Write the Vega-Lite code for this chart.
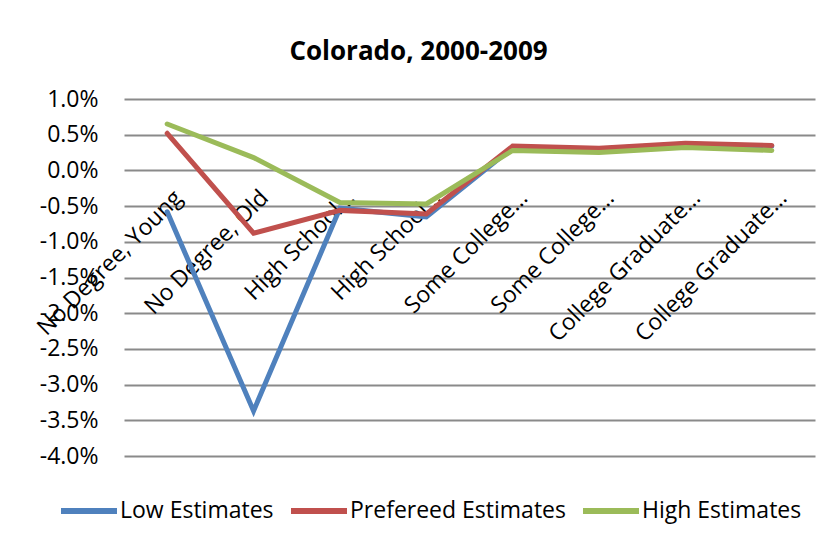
{
  "$schema": "https://vega.github.io/schema/vega-lite/v6.json",
  "width": 691,
  "height": 357,
  "autosize": {"type": "none"},
  "padding": {"left": 124, "top": 99, "right": 24, "bottom": 90},
  "background": "white",
  "title": {"text": "Colorado, 2000-2009", "font": "Open Sans", "fontSize": 26, "fontWeight": "bold", "color": "#000000", "offset": 23, "anchor": "middle", "frame": "group", "dx": -51},
  "config": {"view": {"stroke": null}, "font": "Open Sans", "axisY": {"labelOverlap": false}},
  "datasets": {
    "series": [
      {"cat": "No Degree, Young", "series": "Low Estimates", "value": -0.0058},
      {"cat": "No Degree, Old", "series": "Low Estimates", "value": -0.0337},
      {"cat": "High School…", "series": "Low Estimates", "value": -0.0053},
      {"cat": "High School… ", "series": "Low Estimates", "value": -0.0065},
      {"cat": "Some College…", "series": "Low Estimates", "value": 0.0032},
      {"cat": "Some College… ", "series": "Low Estimates", "value": 0.0030},
      {"cat": "College Graduate…", "series": "Low Estimates", "value": 0.0037},
      {"cat": "College Graduate… ", "series": "Low Estimates", "value": 0.0034},
      {"cat": "No Degree, Young", "series": "Prefereed Estimates", "value": 0.0052},
      {"cat": "No Degree, Old", "series": "Prefereed Estimates", "value": -0.0088},
      {"cat": "High School…", "series": "Prefereed Estimates", "value": -0.0056},
      {"cat": "High School… ", "series": "Prefereed Estimates", "value": -0.0061},
      {"cat": "Some College…", "series": "Prefereed Estimates", "value": 0.0034},
      {"cat": "Some College… ", "series": "Prefereed Estimates", "value": 0.0031},
      {"cat": "College Graduate…", "series": "Prefereed Estimates", "value": 0.0038},
      {"cat": "College Graduate… ", "series": "Prefereed Estimates", "value": 0.0035},
      {"cat": "No Degree, Young", "series": "High Estimates", "value": 0.0065},
      {"cat": "No Degree, Old", "series": "High Estimates", "value": 0.0018},
      {"cat": "High School…", "series": "High Estimates", "value": -0.0045},
      {"cat": "High School… ", "series": "High Estimates", "value": -0.0047},
      {"cat": "Some College…", "series": "High Estimates", "value": 0.0028},
      {"cat": "Some College… ", "series": "High Estimates", "value": 0.0025},
      {"cat": "College Graduate…", "series": "High Estimates", "value": 0.0032},
      {"cat": "College Graduate… ", "series": "High Estimates", "value": 0.0028}
    ],
    "cats": [
      {"cat": "No Degree, Young", "value": 0},
      {"cat": "No Degree, Old", "value": 0},
      {"cat": "High School…", "value": 0},
      {"cat": "High School… ", "value": 0},
      {"cat": "Some College…", "value": 0},
      {"cat": "Some College… ", "value": 0},
      {"cat": "College Graduate…", "value": 0},
      {"cat": "College Graduate… ", "value": 0}
    ]
  },
  "encoding": {
    "x": {"field": "cat", "type": "nominal", "sort": null, "axis": null, "scale": {"paddingInner": 0, "paddingOuter": 0}},
    "y": {
      "field": "value", "type": "quantitative",
      "scale": {"domain": [-0.04, 0.01], "nice": false, "zero": false},
      "axis": {"values": [-0.04, -0.035, -0.03, -0.025, -0.02, -0.015, -0.01, -0.005, 0, 0.005, 0.01], "labelExpr": "replace(format(datum.value, '.1%'), '\u2212', '-')", "labelOverlap": false, "domain": false, "ticks": false, "labelFontSize": 23, "labelColor": "#000000", "labelPadding": 26, "labelFont": "Open Sans", "gridColor": "#8a8a8a", "gridWidth": 1.8, "gridOpacity": 1, "title": null}
    }
  },
  "layer": [
    {
      "data": {"name": "cats"},
      "mark": {"type": "text", "angle": 315, "align": "right", "baseline": "middle", "fontSize": 23, "color": "#000000", "dx": -9, "dy": 25},
      "encoding": {
        "text": {"field": "cat"}
      }
    },
    {
      "data": {"name": "series"},
      "mark": {"type": "line", "strokeWidth": 5, "strokeCap": "round", "strokeJoin": "miter"},
      "encoding": {
        "color": {
          "field": "series", "type": "nominal", "sort": ["Low Estimates", "Prefereed Estimates", "High Estimates"],
          "scale": {"domain": ["Low Estimates", "Prefereed Estimates", "High Estimates"], "range": ["#4F81BD", "#C0504D", "#9BBB59"]},
          "legend": {"orient": "none", "legendX": -66, "legendY": 381, "direction": "horizontal", "title": null, "symbolType": "stroke", "symbolSize": 3136, "symbolStrokeWidth": 6, "labelFontSize": 23, "labelFont": "Open Sans", "labelColor": "#000000", "labelOffset": 0, "labelLimit": 0, "columnPadding": 5}
        }
      }
    }
  ]
}
